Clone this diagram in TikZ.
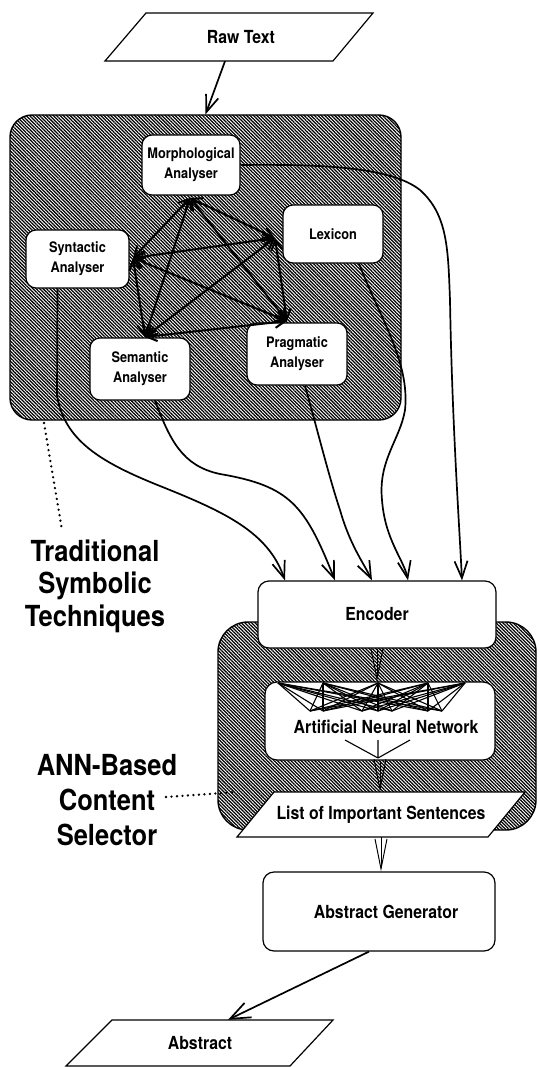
\documentclass[tikz,border=0pt]{standalone}
\usepackage{fontspec}
\setmainfont{TeX Gyre Heros}[FakeStretch=0.88]
\usetikzlibrary{arrows.meta,patterns.meta,calc}
\begin{document}
\begin{tikzpicture}[x=1pt,y=-1pt,
  hatch/.style={draw=black,line width=1.4pt,pattern={Lines[angle=-45,distance=2.4pt,line width=1.25pt]},inner sep=0pt},
  wbox/.style={draw=black,line width=1.2pt,fill=white,rounded corners=10pt,font=\bfseries\fontsize{14.5}{20}\selectfont,align=center,inner sep=0pt},
  bigbox/.style={draw=black,line width=1.2pt,fill=white,rounded corners=11pt,inner sep=0pt,font=\bfseries\fontsize{18}{21}\selectfont},
  lbl/.style={font=\bfseries\fontsize{18}{21}\selectfont,inner sep=0pt},
  paraline/.style={draw=black,line width=1.2pt,fill=white,line join=miter},
  biglbl/.style={font=\bfseries\fontsize{29}{32.5}\selectfont,align=center,inner sep=0pt},
  link/.style={line width=2pt,{Straight Barb[length=10pt,width=11pt]}-{Straight Barb[length=10pt,width=11pt]}},
  flow/.style={line width=1.7pt,-{Straight Barb[length=17pt,width=13pt]}},
  narrow/.style={line width=1pt,-{Straight Barb[length=30pt,width=12pt]}},
  net/.style={line width=1.1pt},
  dots/.style={line width=2.6pt,line cap=round,dash pattern=on 0pt off 5.5pt},
]
\useasboundingbox (0,0) rectangle (538,1067);
\fill[white] (0,0) rectangle (538,1067);

% ---- Raw Text ----
\draw[paraline] (146,13) -- (373,13) -- (333,61) -- (105,61) -- cycle;
\node[lbl,minimum height=48pt] (raw) at (241,37) {Raw Text};

% ---- symbolic block ----
\node[hatch,rounded corners=22pt,minimum width=391pt,minimum height=305pt] (sym) at (205.5,267.5) {};
\draw[flow] ($(raw.south)+(-16,0)$) -- (sym.north);

\node[wbox,minimum width=98pt,minimum height=60pt] (morph) at (191,165) {Morphological\\Analyser};
\node[wbox,minimum width=100pt,minimum height=58pt] (lex) at (333,234) {Lexicon};
\node[wbox,minimum width=103pt,minimum height=58pt] (syn) at (77.5,259) {Syntactic\\Analyser};
\node[wbox,minimum width=100pt,minimum height=62pt] (sem) at (140,369) {Semantic\\Analyser};
\node[wbox,minimum width=100pt,minimum height=62pt] (prag) at (297,354) {Pragmatic\\Analyser};

\coordinate (hM) at (190,198);
\coordinate (hS) at (133,258);
\coordinate (hL) at (275,238);
\coordinate (hSe) at (145,337);
\coordinate (hP) at (287,321);
\foreach \a/\b in {hM/hS,hM/hL,hM/hSe,hM/hP,hS/hL,hS/hSe,hS/hP,hL/hSe,hL/hP,hSe/hP}
  \draw[link] (\a) -- (\b);

% ---- ANN block (behind the encoder) ----
\node[hatch,rounded corners=30pt,minimum width=318pt,minimum height=208pt] (annblk) at (377,726) {};

% ---- Encoder ----
\node[bigbox,minimum width=238pt,minimum height=67pt] (enc) at (377,614.5) {Encoder};

\draw[flow] ($(syn.south)+(-20,0)$) -- (57,395) .. controls (64,440) and (100,462) .. (160,486)
   .. controls (225,512) and (268,532) .. ($(enc.north)+(-92,0)$);
\draw[flow] ($(sem.south)+(15,0)$) .. controls (170,440) and (182,466) .. (220,474)
   .. controls (290,486) and (305,505) .. ($(enc.north)+(-42,0)$);
\draw[flow] ($(prag.south)+(8,0)$) .. controls (320,440) and (330,480) .. (340,510)
   .. controls (350,545) and (363,562) .. ($(enc.north)+(-5,0)$);
\draw[flow] ($(lex.south)+(26,0)$) .. controls (380,318) and (410,362) .. (405,410)
   .. controls (400,440) and (378,460) .. (382,500)
   .. controls (385,540) and (404,560) .. ($(enc.north)+(31,0)$);
\draw[flow] (morph.east) .. controls (330,164) and (392,168) .. (420,190)
   .. controls (448,215) and (448,250) .. (450,300)
   .. controls (452,420) and (459,520) .. ($(enc.north)+(85,0)$);

% ---- ANN ----
\node[bigbox,rounded corners=12pt,minimum width=230pt,minimum height=78pt] (ann) at (380,721) {};
\foreach \t in {278,323,378,428,465}
  \foreach \b in {310,323,362,378,392,428,442}
    \draw[net] (\t,683) -- (\b,711);
\draw[net] (345,740) -- (378,758) (378,740) -- (378,758) (410,740) -- (378,758);
\node[lbl] (anntext) at (386,727) {Artificial Neural Network};
\draw[narrow] (enc.south) -- (enc.south |- ann.north);

% ---- List of important sentences ----
\draw[paraline] (274,792) -- (525,792) -- (488,837) -- (237,837) -- cycle;
\node[lbl,minimum height=45pt] (list) at (381,814.5) {List of Important Sentences};
\draw[narrow] (ann.south) -- (ann.south |- list.north);

% ---- Abstract generator ----
\node[bigbox,minimum width=232pt,minimum height=79pt] (ag) at (379,911.5) {\hspace*{14pt}Abstract Generator};
\draw[narrow] (list.south) -- (list.south |- ag.north);

% ---- Abstract ----
\draw[paraline] (112,1020) -- (333,1020) -- (290,1066) -- (66,1066) -- cycle;
\node[lbl,minimum height=46pt] (abstract) at (200,1043) {Abstract};
\draw[flow,-{Straight Barb[length=20pt,width=16pt]}] ($(ag.south)+(-10,0)$) -- ($(abstract.north)+(28,0)$);

% ---- side labels ----
\node[biglbl] (trad) at (95,586) {Traditional\\Symbolic\\Techniques};
\node[biglbl,font=\bfseries\fontsize{29}{35}\selectfont] (annlbl) at (107,800) {ANN-Based\\Content\\Selector};
\coordinate (t1) at (44,423);
\coordinate (t2) at (62,530);
\draw[dots] (t1) -- (t2);
\coordinate (a1) at (166,797);
\coordinate (a2) at (237,792);
\draw[dots] (a1) -- (a2);
\end{tikzpicture}
\end{document}
